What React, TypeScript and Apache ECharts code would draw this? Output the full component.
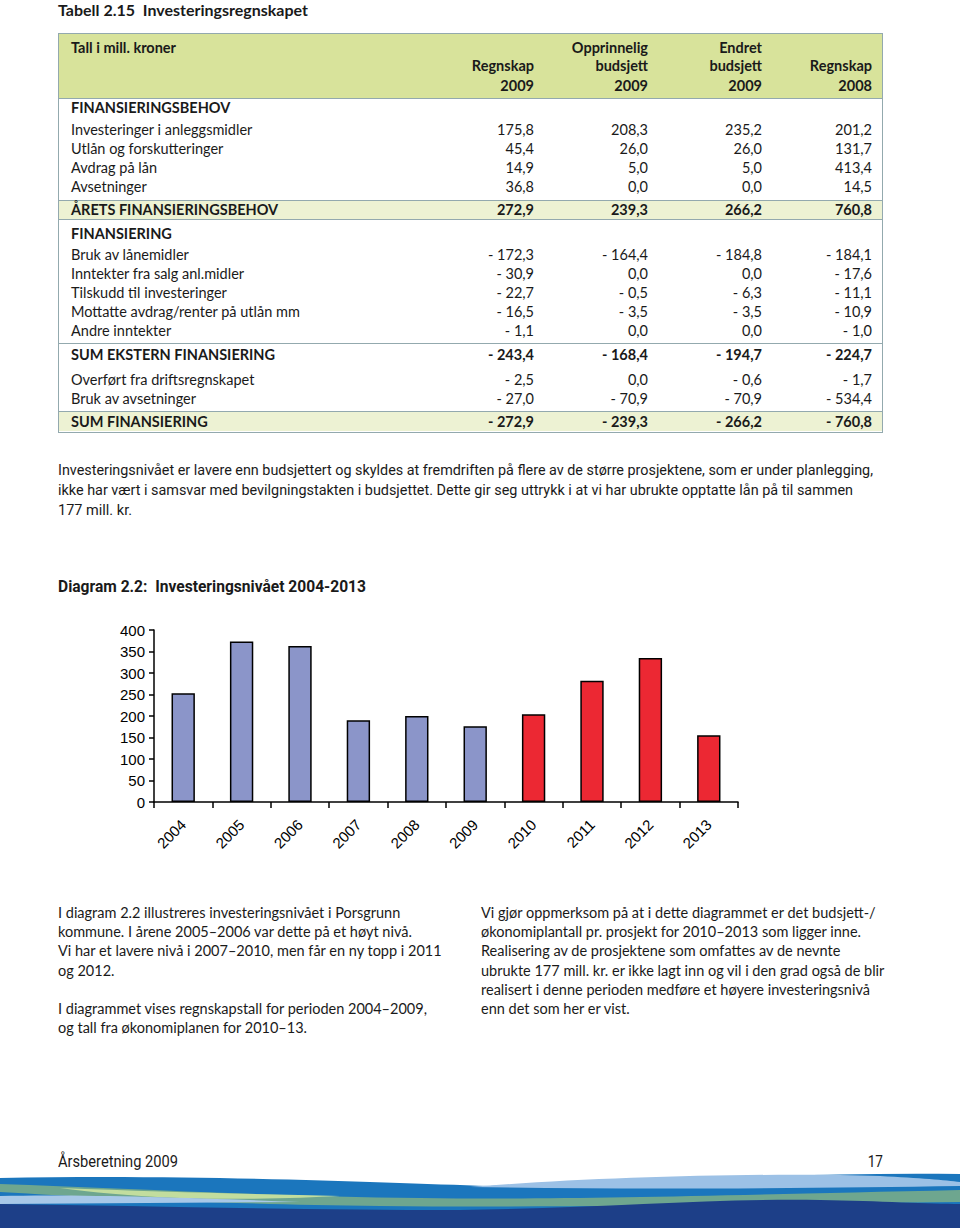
import React, { useEffect, useRef } from "react";
import * as echarts from "echarts";

// ---------- DATA ----------
const years = ["2004", "2005", "2006", "2007", "2008", "2009", "2010", "2011", "2012", "2013"];
const regnskapValues = [253, 373, 363, 190, 200, 176];
const planValues = [204, 282, 335, 155];

const headerLabel = "Tall i mill. kroner";
const colHeadLine1 = ["", "Opprinnelig", "Endret", ""];
const colHeadLine2 = ["Regnskap", "budsjett", "budsjett", "Regnskap"];
const colHeadLine3 = ["2009", "2009", "2009", "2008"];

const behovRows: [string, string[]][] = [
  ["Investeringer i anleggsmidler", ["175,8", "208,3", "235,2", "201,2"]],
  ["Utlån og forskutteringer", ["45,4", "26,0", "26,0", "131,7"]],
  ["Avdrag på lån", ["14,9", "5,0", "5,0", "413,4"]],
  ["Avsetninger", ["36,8", "0,0", "0,0", "14,5"]],
];
const behovTotal: [string, string[]] = ["ÅRETS FINANSIERINGSBEHOV", ["272,9", "239,3", "266,2", "760,8"]];
const finRows: [string, string[]][] = [
  ["Bruk av lånemidler", ["- 172,3", "- 164,4", "- 184,8", "- 184,1"]],
  ["Inntekter fra salg anl.midler", ["- 30,9", "0,0", "0,0", "- 17,6"]],
  ["Tilskudd til investeringer", ["- 22,7", "- 0,5", "- 6,3", "- 11,1"]],
  ["Mottatte avdrag/renter på utlån mm", ["- 16,5", "- 3,5", "- 3,5", "- 10,9"]],
  ["Andre inntekter", ["- 1,1", "0,0", "0,0", "- 1,0"]],
];
const eksternTotal: [string, string[]] = ["SUM EKSTERN FINANSIERING", ["- 243,4", "- 168,4", "- 194,7", "- 224,7"]];
const otherRows: [string, string[]][] = [
  ["Overført fra driftsregnskapet", ["- 2,5", "0,0", "- 0,6", "- 1,7"]],
  ["Bruk av avsetninger", ["- 27,0", "- 70,9", "- 70,9", "- 534,4"]],
];
const finTotal: [string, string[]] = ["SUM FINANSIERING", ["- 272,9", "- 239,3", "- 266,2", "- 760,8"]];

const introLines = [
  "Investeringsnivået er lavere enn budsjettert og skyldes at fremdriften på flere av de større prosjektene, som er under planlegging,",
  "ikke har vært i samsvar med bevilgningstakten i budsjettet. Dette gir seg uttrykk i at vi har ubrukte opptatte lån på til sammen",
  "177 mill. kr.",
];
const diagramTitle = "Diagram 2.2:  Investeringsnivået 2004-2013";
const footerLeft = "Årsberetning 2009";
const footerPage = "17";
const leftLines = [
  "I diagram 2.2 illustreres investeringsnivået i Porsgrunn",
  "kommune. I årene 2005–2006 var dette på et høyt nivå.",
  "Vi har et lavere nivå i 2007–2010, men får en ny topp i 2011",
  "og 2012.",
  "",
  "I diagrammet vises regnskapstall for perioden 2004–2009,",
  "og tall fra økonomiplanen for 2010–13.",
];
const rightLines = [
  "Vi gjør oppmerksom på at i dette diagrammet er det budsjett-/",
  "økonomiplantall pr. prosjekt for 2010–2013 som ligger inne.",
  "Realisering av de prosjektene som omfattes av de nevnte",
  "ubrukte 177 mill. kr. er ikke lagt inn og vil i den grad også de blir",
  "realisert i denne perioden medføre et høyere investeringsnivå",
  "enn det som her er vist.",
];

// ---------- STYLE / LAYOUT ----------
const TABLE_FONT = "Lato, 'Noto Sans', sans-serif";
const NARROW_FONT = "Roboto, 'Liberation Sans', sans-serif";
const HEADER_BG = "#d8e39b";
const TOTAL_BG = "#edf2d3";
const BORDER = "#93a9ae";
const BLUE = "#8b95c9";
const RED = "#ec2833";
const colRight = [534, 648, 762, 872];
const TL = 58, TR = 883;
const introWidths = [815, 795, 74];

const abs = (x: number, yCenter: number, extra: React.CSSProperties = {}): React.CSSProperties => ({
  position: "absolute",
  left: x,
  top: yCenter - 9,
  height: 18,
  lineHeight: "18px",
  whiteSpace: "pre",
  ...extra,
});

let measureCanvas: HTMLCanvasElement | null = null;
function measure(text: string, font: string): number {
  if (!measureCanvas) measureCanvas = document.createElement("canvas");
  const ctx = measureCanvas.getContext("2d")!;
  ctx.font = font;
  return ctx.measureText(text).width;
}

function FitText({ text, x, y, width, size, weight = 400 }: { text: string; x: number; y: number; width: number; size: number; weight?: number }) {
  const natural = measure(text, `${weight} ${size}px ${NARROW_FONT}`);
  const s = natural > 0 ? width / natural : 1;
  return (
    <div
      style={abs(x, y, {
        fontFamily: NARROW_FONT,
        fontSize: size,
        fontWeight: weight,
        transform: `scaleX(${s})`,
        transformOrigin: "0 50%",
      })}
    >
      {text}
    </div>
  );
}

function Row({ label, vals, y, bold }: { label: string; vals: string[]; y: number; bold?: boolean }) {
  const fw = bold ? 700 : 400;
  return (
    <>
      <div style={abs(71, y, { fontWeight: fw })}>{label}</div>
      {vals.map((v, i) => (
        <div key={i} style={{ ...abs(0, y, { fontWeight: fw }), left: undefined, right: 960 - colRight[i] }}>
          {v}
        </div>
      ))}
    </>
  );
}

function Chart() {
  const ref = useRef<HTMLDivElement>(null);
  useEffect(() => {
    if (!ref.current) return;
    const chart = echarts.init(ref.current, null, { renderer: "svg" });
    const data = [
      ...regnskapValues.map((v) => ({ value: v, itemStyle: { color: BLUE } })),
      ...planValues.map((v) => ({ value: v, itemStyle: { color: RED } })),
    ];
    const axisFont = { fontFamily: "'Liberation Sans', Arial, sans-serif", fontSize: 15, color: "#000" };
    chart.setOption({
      animation: false,
      grid: { left: 154, top: 30, width: 584, height: 172 },
      xAxis: {
        type: "category",
        data: years,
        boundaryGap: true,
        axisLine: { lineStyle: { color: "#000", width: 1.5 } },
        axisTick: { show: true, length: 6, lineStyle: { color: "#000", width: 1.5 } },
        axisLabel: { rotate: 45, margin: 20, ...axisFont },
      },
      yAxis: {
        type: "value",
        min: 0,
        max: 400,
        interval: 50,
        splitLine: { show: false },
        axisLine: { show: true, lineStyle: { color: "#000", width: 1.5 } },
        axisTick: { show: true, length: 5, lineStyle: { color: "#000", width: 1.5 } },
        axisLabel: { margin: 9, ...axisFont },
      },
      series: [
        {
          type: "bar",
          barWidth: "40%",
          data,
          itemStyle: { borderColor: "#000", borderWidth: 1.5 },
        },
      ],
    });
    return () => chart.dispose();
  }, []);
  return <div ref={ref} style={{ position: "absolute", left: 0, top: 600, width: 960, height: 270 }} />;
}

function Wave() {
  return (
    <svg width={960} height={60} style={{ position: "absolute", left: 0, top: 1171 }} viewBox="0 0 960 60">
      <path d="M0 7 C 200 3, 380 12, 490 15 C 620 11, 800 1, 960 3 L960 60 L0 60 Z" fill="#1b76bd" />
      <path d="M470 16 C 580 7, 760 1, 880 5 C 920 7, 945 9, 960 11 L960 15 C 820 17, 640 19, 470 16 Z" fill="#9cc1e6" />
      <path d="M0 13 C 120 17, 260 25, 420 27 C 560 29, 700 25, 960 19 L960 31 C 760 33, 560 37, 380 35 C 220 33, 100 27, 0 21 Z" fill="#6ea68f" />
      <path d="M60 17 C 160 21, 260 23, 340 25 C 300 27, 240 29, 180 27 C 130 25, 90 21, 60 17 Z" fill="#c2dd9e" />
      <path d="M0 25 C 80 23, 200 27, 300 31 L 0 33 Z" fill="#a8c8e8" />
      <path d="M0 33 C 150 35, 300 39, 460 39 C 600 37, 720 27, 820 29 C 880 30, 930 33, 960 33 L960 60 L0 60 Z" fill="#1d3f88" />
      <rect x={0} y={57} width={960} height={3} fill="#ffffff" />
    </svg>
  );
}

export default function App() {
  const tableY = {
    section1: 108,
    behov: [130, 149, 168, 187],
    total1: 210,
    section2: 234,
    fin: [255, 274, 293, 312, 331],
    ekstern: 355,
    other: [380, 399],
    total2: 422,
  };
  return (
    <div
      style={{
        position: "absolute",
        left: 0,
        top: 0,
        width: 960,
        height: 1231,
        overflow: "hidden",
        background: "#fff",
        color: "#1a1a1a",
        fontFamily: TABLE_FONT,
        fontSize: 14.5,
      }}
    >
      <div style={abs(58, 10, { fontWeight: 700, fontSize: 16 })}>Tabell 2.15  Investeringsregnskapet</div>

      {/* table frame */}
      <div style={{ position: "absolute", left: TL, top: 33, width: TR - TL, height: 400, border: `1.5px solid ${BORDER}`, boxSizing: "border-box" }} />
      <div style={{ position: "absolute", left: TL + 1, top: 34, width: TR - TL - 2, height: 64, background: HEADER_BG, borderBottom: `1.5px solid ${BORDER}` }} />
      <div style={{ position: "absolute", left: TL + 1, top: 200, width: TR - TL - 2, height: 20, background: TOTAL_BG, borderTop: `1.5px solid ${BORDER}`, borderBottom: `1.5px solid ${BORDER}`, boxSizing: "border-box" }} />
      <div style={{ position: "absolute", left: TL + 1, top: 342.5, width: TR - TL - 2, height: 0, borderTop: `1.5px solid ${BORDER}` }} />
      <div style={{ position: "absolute", left: TL + 1, top: 411, width: TR - TL - 2, height: 19, background: TOTAL_BG, borderTop: `1.5px solid ${BORDER}` }} />

      {/* header */}
      <div style={abs(71, 48, { fontWeight: 700 })}>{headerLabel}</div>
      {[colHeadLine1, colHeadLine2, colHeadLine3].map((line, li) =>
        line.map((t, i) => (
          <div key={`${li}-${i}`} style={{ ...abs(0, [48, 66, 86][li], { fontWeight: 700 }), left: undefined, right: 960 - colRight[i] }}>
            {t}
          </div>
        ))
      )}

      <div style={abs(71, tableY.section1, { fontWeight: 700 })}>FINANSIERINGSBEHOV</div>
      {behovRows.map((r, i) => (
        <Row key={r[0]} label={r[0]} vals={r[1]} y={tableY.behov[i]} />
      ))}
      <Row label={behovTotal[0]} vals={behovTotal[1]} y={tableY.total1} bold />
      <div style={abs(71, tableY.section2, { fontWeight: 700 })}>FINANSIERING</div>
      {finRows.map((r, i) => (
        <Row key={r[0]} label={r[0]} vals={r[1]} y={tableY.fin[i]} />
      ))}
      <Row label={eksternTotal[0]} vals={eksternTotal[1]} y={tableY.ekstern} bold />
      {otherRows.map((r, i) => (
        <Row key={r[0]} label={r[0]} vals={r[1]} y={tableY.other[i]} />
      ))}
      <Row label={finTotal[0]} vals={finTotal[1]} y={tableY.total2} bold />

      {/* intro paragraph */}
      {introLines.map((t, i) => (
        <FitText key={i} text={t} x={58} y={470 + i * 20} width={introWidths[i]} size={15.5} />
      ))}

      <FitText text={diagramTitle} x={58} y={587} width={308} size={16} weight={700} />

      <Chart />

      {leftLines.map((t, i) => (t ? <div key={i} style={abs(58, 913 + i * 19.2, {})}>{t}</div> : null))}
      {rightLines.map((t, i) => (
        <div key={i} style={abs(481, 913 + i * 19.2, {})}>{t}</div>
      ))}

      <FitText text={footerLeft} x={58} y={1162} width={120} size={16} />
      <div style={{ ...abs(0, 1162, { fontFamily: NARROW_FONT, fontSize: 16, transform: "scaleX(0.85)", transformOrigin: "100% 50%" }), left: undefined, right: 960 - 883 }}>{footerPage}</div>

      <Wave />
    </div>
  );
}
